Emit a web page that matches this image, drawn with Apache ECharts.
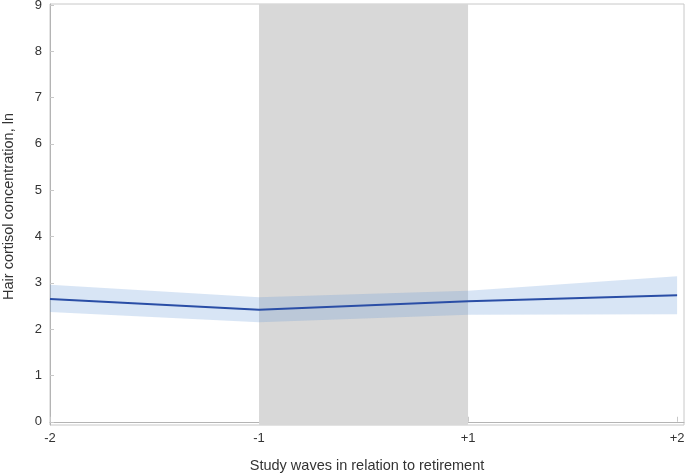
<!DOCTYPE html>
<html>
<head>
<meta charset="utf-8">
<script src="https://cdn.jsdelivr.net/npm/echarts@6/dist/echarts.min.js"></script>
<style>
  html, body { margin: 0; padding: 0; background: #fff; }
  #chart { width: 688px; height: 474px; }
</style>
</head>
<body>
<div id="chart"></div>
<script>
// study waves around retirement, equally spaced
const waves = ['-2', '-1', '+1', '+2']
const wavePos = [0, 1, 2, 3]
const estimate = [2.65, 2.42, 2.60, 2.73]
const ciLower = [2.37, 2.15, 2.31, 2.32]
const ciUpper = [2.96, 2.69, 2.83, 3.14]
const yTicks = [0, 1, 2, 3, 4, 5, 6, 7, 8, 9]
const retirementSpan = [1, 2]

const chart = echarts.init(document.getElementById('chart'))

const pairs = vals => wavePos.map((x, i) => [x, vals[i]])

// confidence band as one polygon through the axis scales
const renderBand = (params, api) => {
  if (params.dataIndex !== 0) return
  const top = wavePos.map((x, i) => api.coord([x, ciUpper[i]]))
  const bottom = wavePos.map((x, i) => api.coord([x, ciLower[i]])).reverse()
  return {
    type: 'polygon',
    shape: { points: top.concat(bottom) },
    style: { fill: 'rgba(100, 150, 215, 0.25)' }
  }
}

chart.setOption({
  animation: false,
  grid: {
    left: 50,
    right: 4,
    top: 4,
    bottom: 49,
    outerBoundsMode: 'none',
    show: true,
    borderColor: '#c8c8c8',
    borderWidth: 1
  },
  xAxis: {
    type: 'value',
    min: 0,
    max: 3.033,
    name: 'Study waves in relation to retirement',
    nameLocation: 'middle',
    nameGap: 33,
    nameTextStyle: { fontFamily: 'Liberation Sans', fontSize: 14.5, color: '#333' },
    splitLine: { show: false },
    axisLine: { lineStyle: { color: '#b4b4b4' } },
    axisTick: { inside: true, length: 5, customValues: wavePos, lineStyle: { color: '#c8c8c8' } },
    axisLabel: {
      customValues: wavePos,
      formatter: v => waves[wavePos.indexOf(Math.round(v))],
      margin: 7,
      fontFamily: 'Liberation Sans',
      fontSize: 13,
      color: '#333'
    }
  },
  yAxis: {
    type: 'value',
    min: -0.07,
    max: 9.02,
    name: 'Hair cortisol concentration, ln',
    nameLocation: 'middle',
    nameGap: 34,
    nameTextStyle: { fontFamily: 'Liberation Sans', fontSize: 14.5, color: '#333', padding: [0, 0, 0, 16] },
    splitLine: { show: false },
    axisLine: { show: true, lineStyle: { color: '#b4b4b4' } },
    axisTick: { inside: true, length: 4, customValues: yTicks, lineStyle: { color: '#c8c8c8' } },
    axisLabel: {
      customValues: yTicks,
      margin: 8,
      fontFamily: 'Liberation Sans',
      fontSize: 13,
      color: '#333'
    }
  },
  series: [
    {
      name: 'retirement',
      type: 'line',
      data: [],
      z: 1,
      markArea: {
        silent: true,
        itemStyle: { color: '#d8d8d8' },
        data: [[{ xAxis: retirementSpan[0] }, { xAxis: retirementSpan[1] }]]
      }
    },
    {
      name: 'ci',
      type: 'custom',
      renderItem: renderBand,
      data: pairs(estimate),
      silent: true,
      z: 2
    },
    {
      name: 'estimate',
      type: 'line',
      data: pairs(estimate),
      symbol: 'none',
      lineStyle: { color: '#2a4ea6', width: 2 },
      z: 3
    }
  ]
})
</script>
</body>
</html>
